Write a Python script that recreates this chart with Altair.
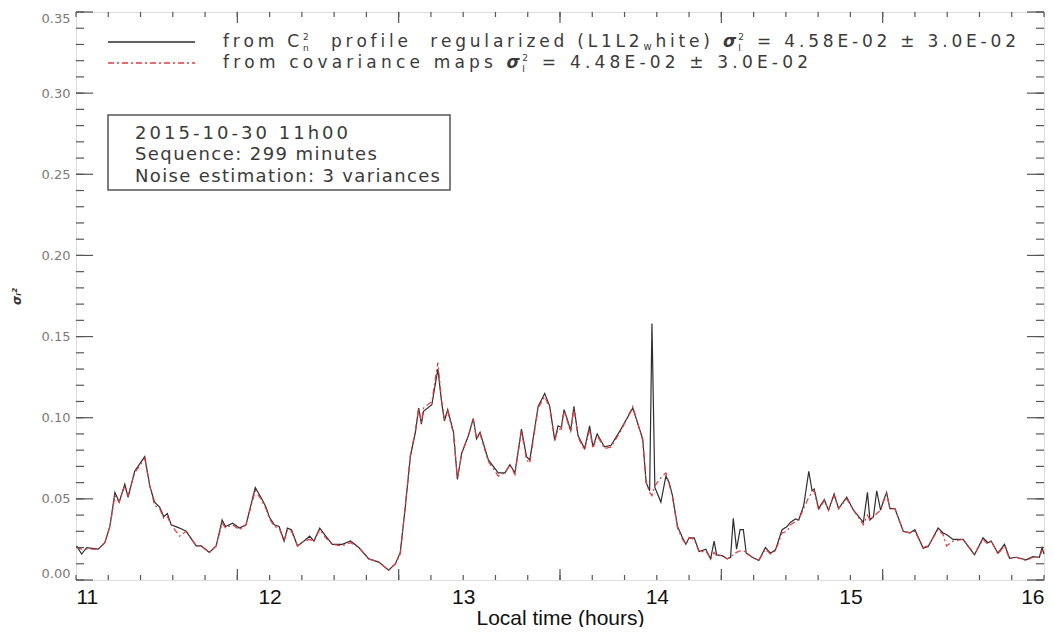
import altair as alt
import pandas as pd

# ---------------- data ----------------
time_h = [11.003, 11.029, 11.055, 11.115, 11.149, 11.175, 11.201, 11.223, 11.252, 11.269,
          11.303, 11.355, 11.381, 11.406, 11.432, 11.453, 11.472, 11.492, 11.535, 11.569,
          11.621, 11.647, 11.689, 11.724, 11.755, 11.772, 11.809, 11.844, 11.878, 11.926,
          11.955, 11.981, 11.998, 12.024, 12.049, 12.075, 12.092, 12.113, 12.144, 12.178,
          12.207, 12.229, 12.259, 12.290, 12.324, 12.375, 12.418, 12.461, 12.512, 12.564,
          12.615, 12.650, 12.675, 12.701, 12.727, 12.753, 12.770, 12.784, 12.795, 12.838,
          12.869, 12.889, 12.903, 12.920, 12.950, 12.970, 12.992, 13.027, 13.052, 13.069,
          13.087, 13.130, 13.181, 13.216, 13.241, 13.267, 13.301, 13.327, 13.344, 13.387,
          13.421, 13.447, 13.473, 13.490, 13.507, 13.521, 13.538, 13.555, 13.572, 13.593,
          13.627, 13.653, 13.670, 13.692, 13.730, 13.764, 13.815, 13.876, 13.927, 13.945,
          13.963, 13.975, 13.990, 14.021, 14.047, 14.064, 14.081, 14.107, 14.133, 14.150,
          14.167, 14.193, 14.219, 14.253, 14.278, 14.296, 14.309, 14.338, 14.364, 14.381,
          14.395, 14.412, 14.430, 14.447, 14.462, 14.493, 14.527, 14.561, 14.587, 14.613,
          14.647, 14.673, 14.690, 14.716, 14.733, 14.759, 14.785, 14.802, 14.813, 14.836,
          14.865, 14.887, 14.916, 14.939, 14.981, 15.016, 15.067, 15.088, 15.101, 15.119,
          15.136, 15.156, 15.170, 15.187, 15.204, 15.230, 15.273, 15.307, 15.333, 15.376,
          15.402, 15.453, 15.479, 15.496, 15.530, 15.582, 15.641, 15.685, 15.710, 15.727,
          15.762, 15.796, 15.822, 15.856, 15.907, 15.943, 15.976, 15.990, 16.000]

cn2_profile = [0.021, 0.016, 0.020, 0.019, 0.023, 0.033, 0.054, 0.048, 0.059, 0.051,
               0.067, 0.076, 0.058, 0.048, 0.045, 0.039, 0.041, 0.034, 0.032, 0.030,
               0.021, 0.021, 0.017, 0.021, 0.037, 0.033, 0.035, 0.032, 0.034, 0.057,
               0.051, 0.045, 0.039, 0.034, 0.033, 0.024, 0.032, 0.031, 0.021, 0.024,
               0.027, 0.024, 0.032, 0.027, 0.022, 0.022, 0.024, 0.020, 0.013, 0.011,
               0.006, 0.010, 0.017, 0.045, 0.076, 0.091, 0.106, 0.096, 0.104, 0.108,
               0.130, 0.109, 0.098, 0.105, 0.091, 0.062, 0.078, 0.089, 0.0995, 0.087,
               0.091, 0.074, 0.066, 0.066, 0.071, 0.066, 0.093, 0.076, 0.074, 0.107,
               0.115, 0.107, 0.086, 0.095, 0.094, 0.105, 0.099, 0.092, 0.107, 0.089,
               0.081, 0.095, 0.082, 0.090, 0.082, 0.083, 0.093, 0.106, 0.087, 0.060,
               0.055, 0.158, 0.057, 0.048, 0.064, 0.060, 0.052, 0.033, 0.026, 0.022,
               0.026, 0.026, 0.0175, 0.019, 0.013, 0.024, 0.0155, 0.015, 0.013, 0.014,
               0.038, 0.019, 0.031, 0.031, 0.0165, 0.014, 0.012, 0.020, 0.0165, 0.0186,
               0.031, 0.033, 0.0355, 0.0376, 0.037, 0.046, 0.067, 0.055, 0.056, 0.044,
               0.0495, 0.043, 0.053, 0.044, 0.051, 0.043, 0.0355, 0.054, 0.037, 0.039,
               0.055, 0.043, 0.0485, 0.054, 0.044, 0.044, 0.030, 0.029, 0.031, 0.0196,
               0.0206, 0.032, 0.029, 0.028, 0.025, 0.025, 0.0155, 0.026, 0.023, 0.024,
               0.0165, 0.022, 0.0134, 0.014, 0.0124, 0.0144, 0.014, 0.020, 0.016]

covariance_maps = [0.020, 0.019, 0.019, 0.019, 0.023, 0.033, 0.052, 0.048, 0.058, 0.052,
                   0.066, 0.075, 0.058, 0.046, 0.044, 0.038, 0.039, 0.034, 0.027, 0.030,
                   0.021, 0.021, 0.017, 0.021, 0.035, 0.032, 0.034, 0.031, 0.034, 0.055,
                   0.050, 0.044, 0.038, 0.033, 0.032, 0.024, 0.031, 0.030, 0.021, 0.024,
                   0.025, 0.024, 0.031, 0.026, 0.022, 0.021, 0.023, 0.020, 0.013, 0.011,
                   0.006, 0.010, 0.016, 0.046, 0.077, 0.092, 0.106, 0.097, 0.106, 0.110,
                   0.134, 0.110, 0.099, 0.104, 0.090, 0.063, 0.078, 0.089, 0.099, 0.087,
                   0.090, 0.073, 0.064, 0.066, 0.071, 0.065, 0.092, 0.074, 0.072, 0.106,
                   0.113, 0.106, 0.086, 0.093, 0.093, 0.104, 0.098, 0.091, 0.106, 0.088,
                   0.080, 0.093, 0.081, 0.089, 0.081, 0.082, 0.092, 0.107, 0.086, 0.060,
                   0.054, 0.052, 0.058, 0.063, 0.066, 0.059, 0.051, 0.032, 0.025, 0.022,
                   0.026, 0.025, 0.017, 0.018, 0.013, 0.017, 0.015, 0.015, 0.013, 0.014,
                   0.016, 0.017, 0.018, 0.018, 0.017, 0.014, 0.012, 0.019, 0.016, 0.018,
                   0.029, 0.030, 0.034, 0.036, 0.037, 0.044, 0.051, 0.054, 0.055, 0.043,
                   0.049, 0.043, 0.052, 0.044, 0.050, 0.043, 0.034, 0.040, 0.037, 0.039,
                   0.041, 0.043, 0.048, 0.053, 0.044, 0.044, 0.030, 0.029, 0.030, 0.020,
                   0.021, 0.031, 0.028, 0.021, 0.024, 0.025, 0.016, 0.025, 0.022, 0.024,
                   0.016, 0.021, 0.013, 0.014, 0.012, 0.014, 0.014, 0.018, 0.018]

x_label_values = [11, 12, 13, 14, 15, 16]
y_label_values = [0.00, 0.05, 0.10, 0.15, 0.20, 0.25, 0.30, 0.35]
# original axis ticks: every 10 minutes over the 300-minute sequence, major every 50 minutes
tick_minutes = [0, 10, 20, 30, 40, 50, 60, 70, 80, 90, 100, 110, 120, 130, 140, 150,
                160, 170, 180, 190, 200, 210, 220, 230, 240, 250, 260, 270, 280, 290, 300]
major_tick_minutes = [50, 100, 150, 200, 250]
y_minor_ticks = [i / 100 for i in range(0, 36)]

# text pieces: (text, kind)  kind: n normal, bi bold-italic, sub subscript, pair (superscript, subscript)
legend_row1 = [("from C", "n"), (("2", "n"), "pair"), ("  profile  regularized (L1L2", "n"),
               ("w", "sub"), ("hite) ", "n"), ("σ", "bi"), (("2", "I"), "pair"),
               (" = 4.58E-02 ± 3.0E-02", "n")]
legend_row2 = [("from covariance maps ", "n"), ("σ", "bi"), (("2", "I"), "pair"),
               (" = 4.48E-02 ± 3.0E-02", "n")]
info_lines = ["2015-10-30 11h00", "Sequence: 299 minutes", "Noise estimation: 3 variances"]

# ---------------- chart ----------------
W, H = 968, 568
BLACK = "#2e2e2e"
RED = "#e23b40"
AXIS_C = "#555555"
TXT_C = "#3a3a3a"
FONT = "DejaVu Sans"

# DejaVu Sans advance widths (font units / 2048), used to spread the IDL-like wide lettering
ADV = {' ': 651, '(': 799, ')': 799, '-': 739, '.': 651, ':': 690, '=': 1716, '±': 1716,
       'C': 1430, 'E': 1294, 'L': 1141, 'N': 1532, 'S': 1300, 'I': 604, 'σ': 1290,
       'a': 1255, 'c': 1126, 'd': 1300, 'e': 1260, 'f': 721, 'g': 1300, 'h': 1298, 'i': 569,
       'l': 569, 'm': 1995, 'n': 1298, 'o': 1253, 'p': 1300, 'q': 1300, 'r': 842, 's': 1067,
       't': 803, 'u': 1298, 'v': 1212, 'w': 1675, 'z': 1075}


def adv(ch, size):
    return ADV.get(ch, 1303) / 2048 * size


def glyphs(tokens, x0, base_y, size, x_end, small=9, sup_dy=-7, sub_dy=4):
    items = []
    for tok, kind in tokens:
        if kind == "n":
            for ch in tok:
                items.append((adv(ch, size), [(ch, 0, size, "n")]))
        elif kind == "bi":
            items.append((adv(tok, size) * 1.08, [(tok, 0, size, "bi")]))
        elif kind == "sub":
            items.append((adv(tok, 10), [(tok, 3, 10, "n")]))
        else:
            sup, sub = tok
            items.append((max(adv(sup, small), adv(sub, small)),
                          [(sup, sup_dy, small, "n"), (sub, sub_dy, small, "n")]))
    natural = sum(a for a, _ in items)
    track = (x_end - x0 - natural) / (len(items) - 1)
    rows, x = [], x0
    for a, gl in items:
        for ch, dy, fs, st in gl:
            if ch != " ":
                rows.append({"ch": ch, "px": x, "py": base_y + dy, "fs": fs, "st": st})
        x += a + track
    return rows


x_scale = alt.Scale(domain=[11, 16], nice=False, zero=False)
y_scale = alt.Scale(domain=[0, 0.35], nice=False, zero=False)

X_AXIS = alt.Axis(values=x_label_values, format="d", ticks=False, domain=False, grid=False,
                  labelFlush=True, labelFont="Liberation Sans", labelFontSize=21,
                  labelColor="#111111", labelPadding=6,
                  title="Local time (hours)", titleFont="Liberation Sans", titleFontSize=21,
                  titleFontWeight="normal", titleColor="#111111", titlePadding=0)
Y_AXIS = alt.Axis(values=y_label_values, format=".2f", ticks=False, domain=False, grid=False,
                  labelFlush=True, labelFlushOffset=0,
                  labelFont=FONT, labelFontSize=13, labelColor="#7a7a7a", labelPadding=6,
                  title="σᵢ²", titleFont=FONT, titleFontSize=12, titleFontStyle="italic",
                  titleFontWeight="bold", titleColor="#333333", titlePadding=18)

X = lambda f: alt.X(f, type="quantitative", scale=x_scale, axis=X_AXIS)
Y = lambda f: alt.Y(f, type="quantitative", scale=y_scale, axis=Y_AXIS)

df_b = pd.DataFrame({"t": time_h, "v": cn2_profile})
df_r = pd.DataFrame({"t": time_h, "v": covariance_maps})

line_b = alt.Chart(df_b).mark_line(color=BLACK, strokeWidth=1.2).encode(x=X("t"), y=Y("v"))
line_r = alt.Chart(df_r).mark_line(color=RED, strokeWidth=1.2, strokeDash=[6, 3, 2, 3]).encode(
    x=X("t"), y=Y("v"))

# inward ticks on all four sides
xt = pd.DataFrame({"t": [11 + m / 60 for m in tick_minutes]})
xtm = pd.DataFrame({"t": [11 + m / 60 for m in major_tick_minutes]})
yt = pd.DataFrame({"v": y_minor_ticks})
ytm = pd.DataFrame({"v": y_label_values})


def xticks(data, length):
    bot = alt.Chart(data).mark_rule(color=AXIS_C, strokeWidth=1.2).encode(
        x=X("t"), y=alt.value(H), y2=alt.value(H - length))
    top = alt.Chart(data).mark_rule(color=AXIS_C, strokeWidth=1.2).encode(
        x=X("t"), y=alt.value(0), y2=alt.value(length))
    return [bot, top]


def yticks(data, length):
    left = alt.Chart(data).mark_rule(color=AXIS_C, strokeWidth=1.2).encode(
        y=Y("v"), x=alt.value(0), x2=alt.value(length))
    right = alt.Chart(data).mark_rule(color=AXIS_C, strokeWidth=1.2).encode(
        y=Y("v"), x=alt.value(W), x2=alt.value(W - length))
    return [left, right]


tick_layers = xticks(xt, 5) + xticks(xtm, 11) + yticks(yt, 8) + yticks(ytm, 17)

# legend (inside the plot)
one = pd.DataFrame({"k": [0]})
leg_line_b = alt.Chart(one).mark_rule(color=BLACK, strokeWidth=1.3).encode(
    x=alt.value(32), x2=alt.value(119), y=alt.value(30))
leg_line_r = alt.Chart(one).mark_rule(color=RED, strokeWidth=1.3, strokeDash=[6, 3, 2, 3]).encode(
    x=alt.value(32), x2=alt.value(119), y=alt.value(51))

text_rows = (glyphs(legend_row1, 147, 34.5, 17, 940)
             + glyphs(legend_row2, 147, 56, 17, 732)
             + glyphs([(info_lines[0], "n")], 59, 126.5, 18, 272)
             + glyphs([(info_lines[1], "n")], 59, 148, 18, 301)
             + glyphs([(info_lines[2], "n")], 59, 169.5, 18, 364))
tdf = pd.DataFrame(text_rows)


def text_layer(data, style, weight):
    return alt.Chart(data).mark_text(
        align="left", baseline="alphabetic", font=FONT, color=TXT_C,
        fontStyle=style, fontWeight=weight).encode(
        x=alt.X("px:Q", scale=None, axis=None),
        y=alt.Y("py:Q", scale=None, axis=None),
        size=alt.Size("fs:Q", scale=None, legend=None),
        text="ch:N")


txt_normal = text_layer(tdf[tdf.st == "n"], "normal", "normal")
txt_sigma = text_layer(tdf[tdf.st == "bi"], "italic", "bold")

info_box = alt.Chart(one).mark_rect(fill="white", stroke=AXIS_C, strokeWidth=1.5).encode(
    x=alt.value(32), x2=alt.value(374), y=alt.value(103), y2=alt.value(178))

chart = alt.layer(
    line_b, line_r, *tick_layers, leg_line_b, leg_line_r, info_box, txt_normal, txt_sigma
).properties(
    width=W, height=H,
    padding={"left": 68, "top": 4, "right": 1, "bottom": 47},
    autosize=alt.AutoSizeParams(type="none"),
).configure_view(stroke=AXIS_C, strokeWidth=1.5).configure(background="white")

chart.save("out.html", embed_options={"renderer": "svg", "actions": False})
